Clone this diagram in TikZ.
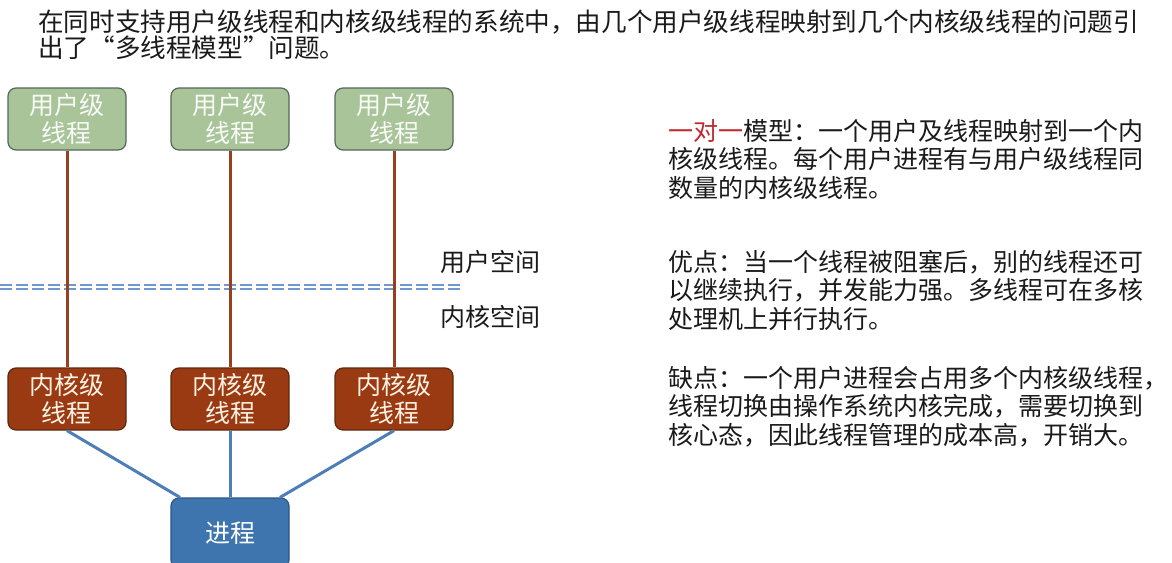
\documentclass[tikz,border=0pt]{standalone}
\usepackage{fontspec}
\setmainfont{Noto Sans CJK SC}
\usetikzlibrary{positioning}
\definecolor{usergreen}{RGB}{168,196,152}
\definecolor{userframe}{RGB}{84,104,92}
\definecolor{kernrust}{RGB}{153,58,18}
\definecolor{kernframe}{RGB}{96,40,14}
\definecolor{procblue}{RGB}{62,117,175}
\definecolor{procframe}{RGB}{44,86,134}
\definecolor{linkbrown}{RGB}{150,64,30}
\definecolor{linkblue}{RGB}{78,126,184}
\definecolor{seplight}{RGB}{110,152,208}
\definecolor{textdark}{RGB}{26,26,26}
\definecolor{hlred}{RGB}{192,40,45}

\begin{document}
\begin{tikzpicture}[x=1pt, y=-1pt,
            % one font size for the whole slide
            font=\fontsize{25}{28.5}\selectfont,
            % styles for boxes, links and text
            box/.style={rounded corners=8pt, minimum width=118pt, minimum height=62pt,
                        align=center, inner sep=0pt, line width=1.2pt},
            ubox/.style={box, fill=usergreen, draw=userframe, text=white!92!usergreen},
            kbox/.style={box, fill=kernrust, draw=kernframe, text=white!90!orange},
            pbox/.style={box, fill=procblue, draw=procframe, text=white, minimum height=70pt},
            uline/.style={linkbrown, line width=3pt},
            kline/.style={linkblue, line width=3pt},
            sepline/.style={seplight, line width=1.6pt, double=white, double distance=2pt,
                            dash pattern=on 12pt off 4pt},
            para/.style={anchor=north west, inner sep=0pt, align=left, text=textdark}
        ]
        \useasboundingbox (0,0) rectangle (1172,562);

        % title text
        \node[para, font=\fontsize{25.6}{26}\selectfont] (intro) at (38,10)
            {在同时支持用户级线程和内核级线程的系统中，由几个用户级线程映射到几个内核级线程的问题引\\出了“多线程模型”问题。};

        % user / kernel boundary
        \coordinate (sepL) at (0,287);
        \coordinate (sepR) at (462,287);
        \draw[sepline] (sepL) -- (sepR);
        \node[text=textdark] (uspace) at (490,262) {用户空间};
        \node[text=textdark] (kspace) at (490,317) {内核空间};

        \foreach \i/\x in {1/67, 2/230, 3/394} {
            \node[ubox] (u\i) at (\x,119) {用户级\\线程};
            \node[kbox] (k\i) at (\x,399) {内核级\\线程};
            \draw[uline] (u\i.south) -- (k\i.north);
        }

        \node[pbox] (proc) at (230,533) {进程};
        \draw[kline] (k1.south) -- ([xshift=-50pt]proc.north);
        \draw[kline] (k2.south) -- (proc.north);
        \draw[kline] (k3.south) -- ([xshift=50pt]proc.north);

        % notes on the right
        \node[para] (model) at (668,119)
            {\textcolor{hlred}{一对一}模型：一个用户及线程映射到一个内\\核级线程。每个用户进程有与用户级线程同\\数量的内核级线程。};
        \node[para] (pros) at (668,250)
            {优点：当一个线程被阻塞后，别的线程还可\\以继续执行，并发能力强。多线程可在多核\\处理机上并行执行。};
        \node[para] (cons) at (668,366)
            {缺点：一个用户进程会占用多个内核级线程，\\线程切换由操作系统内核完成，需要切换到\\核心态，因此线程管理的成本高，开销大。};

\end{tikzpicture}
\end{document}
